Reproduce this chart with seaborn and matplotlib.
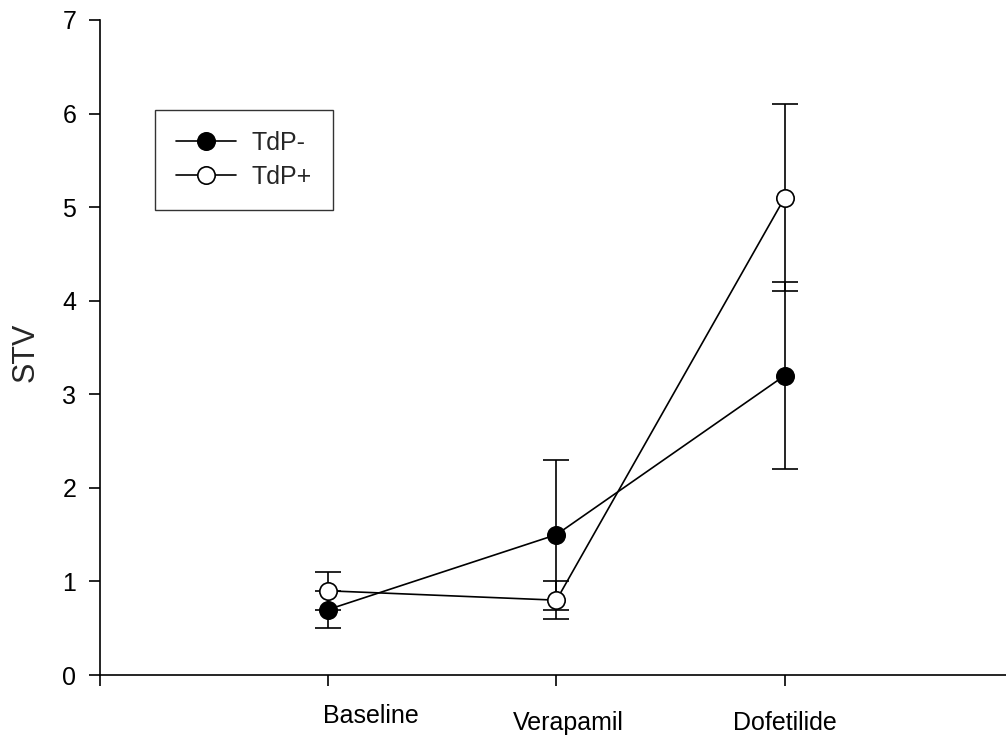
import matplotlib
matplotlib.use("Agg")
import matplotlib.pyplot as plt
import matplotlib.transforms as mtransforms
from matplotlib.lines import Line2D
import pandas as pd
import seaborn as sns

# Short-term variability of repolarization per treatment phase
conditions = ["Baseline", "Verapamil", "Dofetilide"]
groups = ["TdP-", "TdP+"]
stv_tdp_neg = [0.7, 1.5, 3.2]
stv_tdp_pos = [0.9, 0.8, 5.1]
err_tdp_neg = [0.2, 0.8, 1.0]
err_tdp_pos = [0.2, 0.2, 1.0]

df = pd.DataFrame({
    "condition": conditions * 2,
    "pos": list(range(len(conditions))) * 2,
    "group": [groups[0]] * 3 + [groups[1]] * 3,
    "stv": stv_tdp_neg + stv_tdp_pos,
    "err": err_tdp_neg + err_tdp_pos,
})

sns.set_style("ticks")
plt.rcParams["font.family"] = ["Liberation Sans", "DejaVu Sans"]

fig = plt.figure(figsize=(10.06, 7.40), dpi=100)
ax = fig.add_axes([0.0994, 0.0878, 0.9006, 0.8852])

face = {"TdP-": "black", "TdP+": "white"}
LW = 1.2
MS = 12.5

# error bars sit behind the connecting lines and markers
for g in groups:
    sub = df[df["group"] == g]
    ax.errorbar(sub["pos"], sub["stv"], yerr=sub["err"], fmt="none",
                ecolor="black", elinewidth=LW, capsize=9.5, capthick=LW,
                zorder=2)

n_before = len(ax.lines)
sns.lineplot(data=df, x="pos", y="stv", hue="group", style="group",
             hue_order=groups, style_order=groups,
             palette={g: "black" for g in groups}, markers={g: "o" for g in groups},
             dashes=False, linewidth=LW, markersize=MS, ax=ax, legend=False,
             zorder=3)
for line, g in zip(ax.lines[n_before:], groups):
    line.set_markerfacecolor(face[g])
    line.set_markeredgecolor("black")
    line.set_markeredgewidth(LW)

# legend
handles = [Line2D([], [], color="black", lw=LW, marker="o", markersize=MS,
                  markerfacecolor=face[g], markeredgecolor="black",
                  markeredgewidth=LW) for g in groups]
leg = ax.legend(handles, groups, loc="upper left",
                bbox_to_anchor=(0.0607, 0.8626), fontsize=18, frameon=True,
                fancybox=False, edgecolor="black", handlelength=2.4,
                borderpad=0.85, labelspacing=0.4, handletextpad=0.6,
                borderaxespad=0)
leg.get_frame().set_linewidth(1.0)

xmin = -1.0
ax.set_xlim(xmin, 2.97)
ax.set_ylim(0, 7)
ax.set_yticks(range(0, 8))
ax.set_xticks([xmin, 0, 1, 2])
ax.set_xticklabels([""] + conditions)
ax.set_xlabel("")
ax.set_ylabel("STV", fontsize=22)
ax.yaxis.set_label_coords(-0.066, 0.493)

ax.tick_params(axis="y", direction="out", length=8, width=LW, labelsize=18,
               pad=9, colors="black")
ax.tick_params(axis="x", direction="out", length=8, width=LW, labelsize=18,
               pad=18, colors="black")

# staggered, slightly shifted category labels
offsets = {"Baseline": (43, 7), "Verapamil": (12, 0), "Dofetilide": (0, 0)}
for lbl in ax.get_xticklabels():
    t = lbl.get_text()
    if t in offsets:
        dx, dy = offsets[t]
        lbl.set_transform(lbl.get_transform() +
                          mtransforms.ScaledTranslation(dx / 100, dy / 100,
                                                        fig.dpi_scale_trans))

for side in ["top", "right"]:
    ax.spines[side].set_visible(False)
for side in ["left", "bottom"]:
    ax.spines[side].set_linewidth(LW)
    ax.spines[side].set_color("black")

fig.savefig("out.png", dpi=100, facecolor="white")
